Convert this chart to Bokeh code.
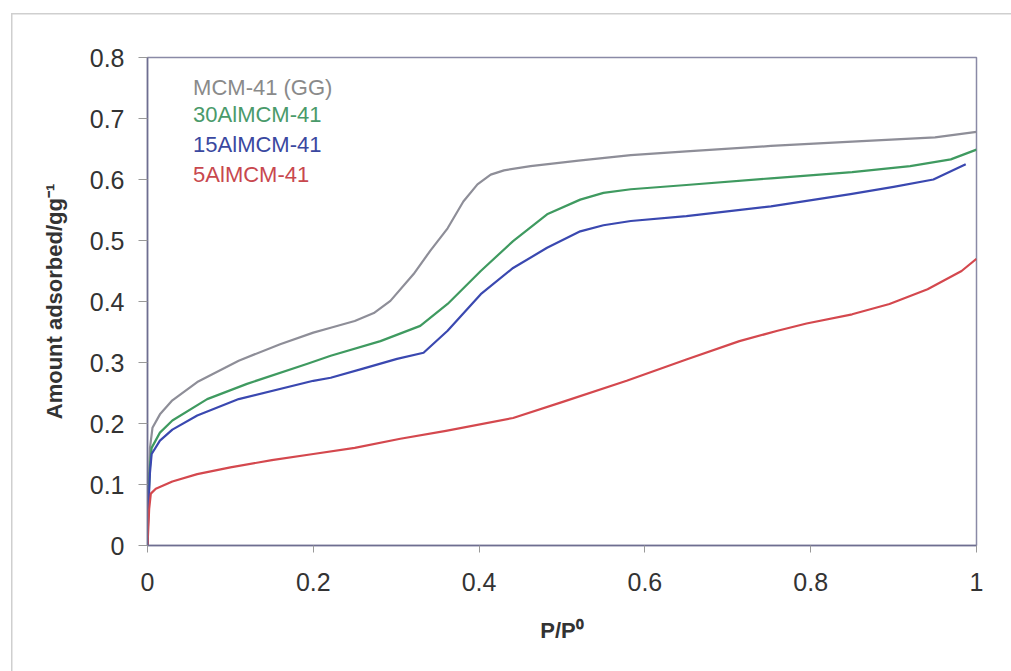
from bokeh.plotting import figure
from bokeh.models import Range1d, FixedTicker
from bokeh.core.properties import value
from bokeh.embed import file_html
from bokeh.resources import INLINE

# ---- data ----
gg_x = [0, 0.001, 0.003, 0.006, 0.015, 0.03, 0.06, 0.11, 0.16, 0.2, 0.221, 0.25, 0.273, 0.293,
        0.321, 0.341, 0.362, 0.381, 0.398, 0.414, 0.43, 0.462, 0.52, 0.583, 0.65, 0.752, 0.85,
        0.95, 1.0]
gg_y = [0, 0.08, 0.16, 0.193, 0.215, 0.238, 0.268, 0.303, 0.33, 0.349, 0.357, 0.368, 0.381, 0.401,
        0.445, 0.483, 0.52, 0.564, 0.592, 0.608, 0.615, 0.622, 0.631, 0.64, 0.646, 0.655, 0.662,
        0.669, 0.678]

al30_x = [0, 0.001, 0.003, 0.005, 0.015, 0.03, 0.072, 0.12, 0.193, 0.221, 0.281, 0.329, 0.362,
          0.402, 0.441, 0.482, 0.522, 0.55, 0.583, 0.65, 0.752, 0.85, 0.92, 0.969, 1.0]
al30_y = [0, 0.07, 0.13, 0.16, 0.185, 0.205, 0.24, 0.265, 0.298, 0.311, 0.335, 0.36, 0.396,
          0.45, 0.499, 0.543, 0.567, 0.578, 0.584, 0.591, 0.602, 0.612, 0.622, 0.633, 0.649]

al15_x = [0, 0.001, 0.003, 0.005, 0.015, 0.03, 0.06, 0.11, 0.2, 0.221, 0.26, 0.301, 0.333, 0.362,
          0.402, 0.441, 0.482, 0.522, 0.55, 0.583, 0.65, 0.752, 0.848, 0.9, 0.948, 0.987]
al15_y = [0, 0.06, 0.12, 0.15, 0.172, 0.19, 0.213, 0.24, 0.27, 0.275, 0.29, 0.306, 0.316, 0.352,
          0.412, 0.455, 0.488, 0.515, 0.525, 0.532, 0.54, 0.556, 0.576, 0.588, 0.6, 0.625]

al5_x = [0, 0.001, 0.002, 0.004, 0.01, 0.03, 0.06, 0.1, 0.15, 0.2, 0.25, 0.305, 0.36, 0.441,
         0.5, 0.578, 0.65, 0.714, 0.76, 0.795, 0.85, 0.895, 0.941, 0.982, 1.0]
al5_y = [0, 0.03, 0.06, 0.085, 0.093, 0.105, 0.117, 0.128, 0.14, 0.15, 0.16, 0.175, 0.188, 0.209,
         0.235, 0.27, 0.305, 0.335, 0.352, 0.364, 0.379, 0.396, 0.42, 0.45, 0.47]

series_names = ["MCM-41 (GG)", "30AlMCM-41", "15AlMCM-41", "5AlMCM-41"]
line_colors = ["#8e8e98", "#3f9a60", "#3a48b0", "#d4484e"]
text_colors = ["#8a8a8a", "#4a9a6a", "#3a48a0", "#c8484e"]

x_ticks = [0, 0.2, 0.4, 0.6, 0.8, 1.0]
x_tick_labels = ["0", "0.2", "0.4", "0.6", "0.8", "1"]
y_ticks = [0, 0.1, 0.2, 0.3, 0.4, 0.5, 0.6, 0.7, 0.8]
y_tick_labels = ["0", "0.1", "0.2", "0.3", "0.4", "0.5", "0.6", "0.7", "0.8"]

legend_x = 0.055
legend_y = [0.751, 0.706, 0.657, 0.608]

FONT = "Liberation Sans"

# faint outer frame of the scanned picture (top and left edges), drawn as host background
frame_css = ("linear-gradient(#cfcfcf, #cfcfcf) 11px 13px / 1000px 1.5px no-repeat, "
             "linear-gradient(#cfcfcf, #cfcfcf) 11px 13px / 1.5px 658px no-repeat, white")

p = figure(width=1011, height=671, output_backend="svg", toolbar_location=None,
           x_range=Range1d(0, 1), y_range=Range1d(0, 0.8),
           min_border_left=147, min_border_right=35, min_border_top=57, min_border_bottom=126,
           styles={"background": frame_css})
p.background_fill_color = "white"
p.border_fill_color = None
p.outline_line_color = "#8a8aa6"
p.outline_line_width = 1.5
p.xgrid.visible = False
p.ygrid.visible = False

for ax in (p.xaxis[0], p.yaxis[0]):
    ax.major_label_text_font = FONT
    ax.major_label_text_font_size = "25px"
    ax.major_label_text_color = "#333333"
    ax.axis_label_text_font = FONT
    ax.axis_label_text_font_style = "bold"
    ax.axis_label_text_font_size = "22px"
    ax.axis_label_text_color = "#333333"
    ax.minor_tick_line_color = None
    ax.major_tick_in = 0
    ax.major_tick_line_color = "#999999"
    ax.axis_line_color = "#6e6e90"
    ax.axis_line_width = 1.5

p.xaxis[0].ticker = FixedTicker(ticks=x_ticks)
p.xaxis[0].major_label_overrides = {t: l for t, l in zip(x_ticks, x_tick_labels)}
p.xaxis[0].major_tick_out = 7
p.xaxis[0].major_label_standoff = 20
p.xaxis[0].axis_label = "P/P\u2070"
p.xaxis[0].axis_label_standoff = 24

p.yaxis[0].ticker = FixedTicker(ticks=y_ticks)
p.yaxis[0].major_label_overrides = {t: l for t, l in zip(y_ticks, y_tick_labels)}
p.yaxis[0].major_tick_out = 9
p.yaxis[0].major_label_standoff = 14
p.yaxis[0].axis_label = "Amount adsorbed/gg\u207b\u00b9"
p.yaxis[0].axis_label_standoff = 20

xs = [gg_x, al30_x, al15_x, al5_x]
ys = [gg_y, al30_y, al15_y, al5_y]
for x, y, c in zip(xs, ys, line_colors):
    p.line(x, y, line_color=c, line_width=2.2, line_join="round")

for name, c, ly in zip(series_names, text_colors, legend_y):
    p.text(x=[legend_x], y=[ly], text=[name], text_color=c,
           text_font=value(FONT), text_font_size="22px", text_baseline="alphabetic")

open("out.html", "w").write(file_html(p, INLINE))
